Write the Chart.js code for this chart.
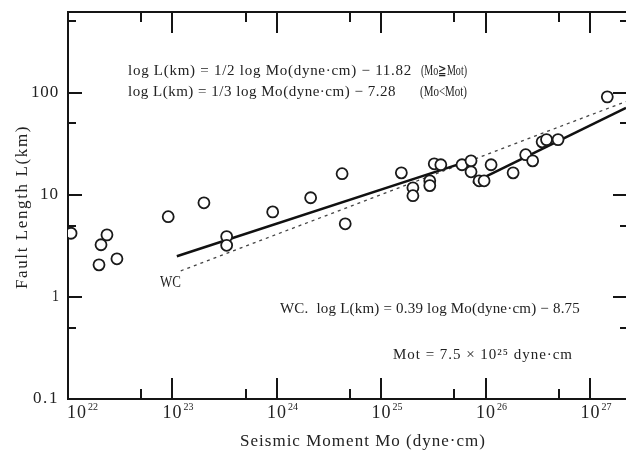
<!DOCTYPE html>
<html>
<head>
<meta charset="utf-8">
<script src="https://cdn.jsdelivr.net/npm/chart.js@4.4.1/dist/chart.umd.min.js"></script>
<style>
  body { margin: 0; background: #fff; }
  canvas { display: block; }
</style>
</head>
<body>
<canvas id="grafica" width="626" height="453"></canvas>
<script>
// datos: Mo en dyne-cm, L en km
var momento = [1.07e22, 2.36e22, 2.07e22, 1.98e22, 2.94e22, 9.1e22, 2.0e23, 3.3e23, 3.3e23, 9.1e23,
               2.1e24, 4.2e24, 4.5e24, 1.55e25, 2.0e25, 2.0e25, 2.9e25, 2.9e25, 3.2e25, 3.7e25,
               5.9e25, 7.2e25, 7.2e25, 8.6e25, 9.6e25, 1.12e26, 1.82e26, 2.4e26, 2.8e26, 3.45e26,
               3.8e26, 4.9e26, 1.45e27];
var longitud = [4.2, 4.05, 3.24, 2.06, 2.36, 6.1, 8.35, 3.9, 3.2, 6.8,
                9.35, 16.1, 5.2, 16.4, 11.7, 9.8, 13.7, 12.3, 20.1, 19.7,
                19.7, 21.5, 16.8, 13.7, 13.7, 19.7, 16.4, 24.7, 21.5, 33,
                34.7, 34.7, 91];

// rectas (extremos): Mo < Mot, Mo >= Mot y WC
var rectaMenorMo = [1.1e23, 7.5e25];
var rectaMenorL = [2.5, 22.1];
var rectaMayorMo = [7.5e25, 2.19e27];
var rectaMayorL = [13.1, 71];
var wcMo = [1.2e23, 2.19e27];
var wcL = [1.8, 82];

// marcas de los ejes
var xMarcas = [1e22, 1e23, 1e24, 1e25, 1e26, 1e27];
var xExponentes = ['22', '23', '24', '25', '26', '27'];
var xMarcasMenores = [5e22, 5e23, 5e24, 5e25, 5e26];
var yMarcas = [0.1, 1, 10, 100];
var yEtiquetas = ['0.1', '1', '10', '100'];
var yMarcasMenores = [0.5, 5, 50, 500];

function puntos(xs, ys) {
    var out = [];
    for (var i = 0; i < xs.length; i++) out.push({x: xs[i], y: ys[i]});
    return out;
}

// escribe texto estirado o comprimido hasta un ancho dado
function ajustar(ctx, txt, x, y, ancho) {
    ctx.letterSpacing = '0px';
    var w = ctx.measureText(txt).width;
    if (w < ancho) {
        ctx.letterSpacing = ((ancho - w) / txt.length) + 'px';
        ctx.fillText(txt, x, y);
    } else {
        ctx.fillText(txt, x, y, ancho);
    }
    ctx.letterSpacing = '0px';
}

var ejesPlugin = {
    id: 'ejes',
    afterDraw: function(chart) {
        var ctx = chart.ctx;
        var a = chart.chartArea;
        var sx = chart.scales.x, sy = chart.scales.y;
        ctx.save();
        ctx.strokeStyle = '#151515';
        ctx.lineWidth = 2;
        ctx.beginPath();
        ctx.moveTo(a.left, a.top);
        ctx.lineTo(a.right, a.top);
        ctx.stroke();

        // marcas hacia adentro
        function marcasX(vals, largo) {
            vals.forEach(function(v) {
                var px = Math.round(sx.getPixelForValue(v));
                ctx.beginPath();
                ctx.moveTo(px, a.bottom); ctx.lineTo(px, a.bottom - largo);
                ctx.moveTo(px, a.top); ctx.lineTo(px, a.top + largo);
                ctx.stroke();
            });
        }
        function marcasY(vals, largo, largoDer) {
            vals.forEach(function(v) {
                var py = Math.round(sy.getPixelForValue(v));
                ctx.beginPath();
                ctx.moveTo(a.left, py); ctx.lineTo(a.left + largo, py);
                ctx.moveTo(a.right, py); ctx.lineTo(a.right - largoDer, py);
                ctx.stroke();
            });
        }
        marcasX(xMarcas, 21);
        marcasX(xMarcasMenores, 10);
        marcasY(yMarcas, 14, 13);
        marcasY(yMarcasMenores, 8, 6);

        ctx.fillStyle = '#222';
        ctx.textBaseline = 'middle';

        // etiquetas eje x (10 con exponente)
        xMarcas.forEach(function(v, i) {
            var px = sx.getPixelForValue(v);
            var izq = Math.max(px - 10, a.left - 1);
            ctx.font = '18px "Liberation Serif"';
            ajustar(ctx, '10', izq, 413, 20);
            ctx.font = '10px "Liberation Serif"';
            ajustar(ctx, xExponentes[i], izq + 21, 407, 10);
        });

        // etiquetas eje y
        ctx.font = '17px "Liberation Serif"';
        var anchos = [26, 7, 19, 28];
        yMarcas.forEach(function(v, i) {
            var py = sy.getPixelForValue(v);
            ajustar(ctx, yEtiquetas[i], 59 - anchos[i], py, anchos[i]);
        });

        // titulos de los ejes
        ctx.font = '17px "Liberation Serif"';
        ajustar(ctx, 'Seismic Moment Mo (dyne·cm)', 240, 442, 246);
        ctx.save();
        ctx.translate(23, 289);
        ctx.rotate(-Math.PI / 2);
        ajustar(ctx, 'Fault Length L(km)', 0, 0, 164);
        ctx.restore();

        // ecuaciones
        ctx.font = '15px "Liberation Serif"';
        ajustar(ctx, 'log L(km) = 1/2 log Mo(dyne·cm) − 11.82', 128, 71, 284);
        ajustar(ctx, 'log L(km) = 1/3 log Mo(dyne·cm) − 7.28', 128, 92, 268);
        ajustar(ctx, 'WC.  log L(km) = 0.39 log Mo(dyne·cm) − 8.75', 280, 309, 300);
        ajustar(ctx, 'Mot = 7.5 × 10²⁵ dyne·cm', 393, 355, 180);
        ctx.font = '15px "Liberation Serif"';
        ajustar(ctx, '(Mo≧Mot)', 421, 71, 46);
        ajustar(ctx, '(Mo<Mot)', 420, 92, 47);
        ctx.font = '17px "Liberation Serif"';
        ajustar(ctx, 'WC', 160, 283, 21);
        ctx.restore();
    }
};

var ctx = document.getElementById('grafica').getContext('2d');
var grafica = new Chart(ctx, {
    type: 'scatter',
    data: {
        datasets: [{
            label: 'datos',
            data: puntos(momento, longitud),
            pointStyle: 'circle',
            pointRadius: 5.5,
            pointBorderWidth: 1.8,
            pointBorderColor: '#1a1a1a',
            pointBackgroundColor: '#ffffff',
            showLine: false,
            order: 0
        }, {
            label: 'Mo < Mot',
            data: puntos(rectaMenorMo, rectaMenorL),
            showLine: true,
            borderColor: '#111',
            borderWidth: 2.6,
            pointRadius: 0,
            order: 1
        }, {
            label: 'Mo >= Mot',
            data: puntos(rectaMayorMo, rectaMayorL),
            showLine: true,
            borderColor: '#111',
            borderWidth: 2.6,
            pointRadius: 0,
            order: 1
        }, {
            label: 'WC',
            data: puntos(wcMo, wcL),
            showLine: true,
            borderColor: '#444',
            borderWidth: 1.3,
            borderDash: [3, 4],
            pointRadius: 0,
            order: 2
        }]
    },
    options: {
        responsive: false,
        animation: false,
        events: [],
        layout: { autoPadding: false, padding: { top: 12, left: 0, right: 0, bottom: 0 } },
        plugins: { legend: { display: false }, tooltip: { enabled: false } },
        scales: {
            x: {
                type: 'logarithmic',
                min: 1e22,
                max: 2.19e27,
                grid: { display: false },
                border: { display: true, color: '#151515', width: 2 },
                ticks: { display: false },
                afterFit: function(scale) { scale.height = 54; }
            },
            y: {
                type: 'logarithmic',
                min: 0.1,
                max: 617,
                grid: { display: false },
                border: { display: true, color: '#151515', width: 2 },
                ticks: { display: false },
                afterFit: function(scale) { scale.width = 68; }
            }
        }
    },
    plugins: [ejesPlugin]
});
</script>
</body>
</html>
